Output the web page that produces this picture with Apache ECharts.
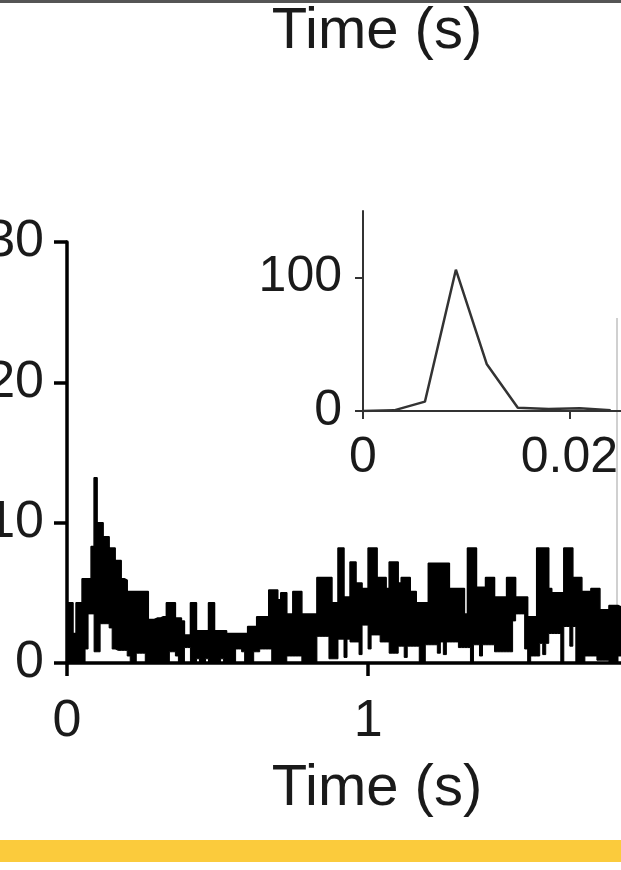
<!DOCTYPE html>
<html>
<head>
<meta charset="utf-8">
<script src="https://cdn.jsdelivr.net/npm/echarts@6/dist/echarts.min.js"></script>
<style>
  html, body { margin: 0; padding: 0; background: #fff; }
  #chart { width: 621px; height: 870px; }
</style>
</head>
<body>
<div id="chart"></div>
<script>
// PSTH trace, 10 ms bins: upper and lower envelope of the trace per bin
const binWidth = 0.01
const peakCounts = [
  4.3, 4.3, 2.1, 4.3, 4.3, 6, 6, 6, 8.3, 13.2,
  10, 10, 9, 9, 8.2, 8.2, 7.3, 7.3, 6, 5.9,
  5.1, 5.1, 5.1, 5.1, 5.1, 5.1, 5.1, 3.1, 3.1, 3.2,
  3.2, 3.3, 3.3, 4.3, 4.3, 4.3, 3.2, 3.2, 3.0, 2.0,
  2.0, 4.3, 4.3, 2.3, 2.3, 2.3, 2.3, 4.3, 4.3, 2.3,
  2.3, 2.3, 2.3, 2.1, 2.1, 2.1, 2.1, 2.1, 2.1, 2.1,
  2.6, 2.6, 2.6, 3.3, 3.3, 3.3, 3.3, 5.2, 5.2, 5.2,
  4.5, 5.0, 5.0, 3.5, 3.5, 5.1, 5.1, 5.1, 3.5, 3.5,
  3.5, 3.5, 3.5, 6.1, 6.1, 6.1, 6.1, 6.1, 4.3, 4.3,
  8.2, 8.2, 4.7, 4.7, 7.2, 7.2, 5.7, 5.7, 5.3, 5.3,
  8.2, 8.2, 8.2, 6.1, 6.1, 6.1, 5.3, 7.2, 7.2, 7.2,
  5.7, 6.1, 6.1, 6.1, 5.1, 5.1, 4.3, 4.3, 4.3, 4.3,
  7.1, 7.1, 7.1, 7.1, 7.1, 7.1, 7.1, 5.3, 5.3, 5.3,
  5.3, 5.3, 3.5, 8.2, 8.2, 8.2, 5.4, 5.4, 5.4, 6.1,
  6.1, 6.1, 4.7, 4.7, 4.7, 4.7, 6.1, 6.1, 6.1, 4.7,
  4.7, 4.7, 4.7, 3.3, 3.3, 3.3, 8.2, 8.2, 8.2, 8.2,
  5.3, 5.0, 5.0, 5.0, 5.0, 8.2, 8.2, 8.2, 6.1, 6.1,
  6.1, 5.1, 5.1, 5.1, 5.3, 5.3, 5.3, 3.8, 3.8, 3.8,
  4.1, 4.1, 4.1, 4.0
]
const troughCounts = [
  0, 0, 0, 0, 0, 0, 1, 3.5, 3.5, 0.8,
  0.8, 2.8, 2.8, 2.8, 2.5, 1, 0.9, 0.9, 0.9, 0.9,
  0.5, 0, 0, 0.7, 0.7, 0.7, 0, 0, 0, 0,
  0, 0, 0, 0, 0.8, 0.8, 0.5, 0, 0, 1.1,
  1.1, 0, 0, 0.3, 0, 0, 0.3, 0, 0, 0,
  0, 0.3, 0, 0, 0, 0, 1, 1, 0.8, 0,
  0, 0, 0.8, 0.8, 1, 1, 1, 1, 0, 0,
  0, 0, 0, 0.5, 0.5, 0.5, 0.5, 0.5, 0, 0,
  0, 0, 0, 1.9, 1.9, 1.9, 1.9, 0.3, 0.3, 0.3,
  1.7, 1.7, 0.4, 1.7, 1.5, 1.5, 1.5, 0.6, 2.7, 2.7,
  1, 2, 2, 2, 1.5, 1.5, 1.5, 0.7, 0.7, 0.7,
  1.2, 1.2, 0.4, 1.2, 1.2, 1.2, 1.2, 0, 0, 1.3,
  1.3, 1.3, 1.3, 0.7, 1.5, 0.6, 1.5, 1.5, 1.5, 1.5,
  1.1, 1.1, 1.1, 1.1, 0, 1.3, 1.3, 0.5, 1.3, 1.3,
  1.3, 1.3, 0.8, 0.8, 0.8, 0.8, 0.8, 0.8, 3.0, 3.5,
  3.5, 3.5, 1.0, 0, 0.5, 0.5, 0.5, 1.4, 0.6, 1.4,
  2.1, 2.1, 2.1, 2.1, 0, 2.6, 2.6, 1.2, 2.6, 0,
  0, 0, 0.5, 0.5, 0.5, 0.5, 0.2, 0.2, 0.2, 0.2,
  0, 0, 0, 0.5
]

// inset: latency histogram
const insetTime = [0, 0.003, 0.006, 0.009, 0.012, 0.015, 0.018, 0.021, 0.024]
const insetCounts = [0, 0.5, 7, 106, 35, 2.5, 1.5, 2, 0.5]

const mainYTicks = [0, 10, 20, 30]
const mainXTicks = [0, 1]
const insetYTicks = [0, 100]
const insetXTicks = [0, 0.02]

const font = "'Liberation Sans', Arial, sans-serif"
const ink = "#1a1a1a"

// step data: each value holds over its bin, closing point at the end of the last bin
const toSteps = (arr) => {
  const pts = arr.map((v, i) => [i * binWidth, v])
  pts.push([arr.length * binWidth, arr[arr.length - 1]])
  return pts
}

const chart = echarts.init(document.getElementById("chart"), null, { renderer: "canvas" })

const option = {
  animation: false,
  backgroundColor: "#fff",
  grid: [
    { left: 67, right: 0, top: 242, bottom: 207, containLabel: false, outerBoundsMode: "none" },
    { left: 363, right: 0, top: 211, bottom: 459, containLabel: false, outerBoundsMode: "none" },
  ],
  xAxis: [
    {
      gridIndex: 0,
      type: "value",
      min: 0,
      max: 1.84,
      interval: 1,
      z: 10,
      name: "Time (s)",
      nameLocation: "middle",
      nameGap: 97,
      nameTextStyle: { fontSize: 58, fontFamily: font, color: ink, padding: [0, 0, 0, 66] },
      axisLine: { lineStyle: { color: "#000", width: 3.5 } },
      axisTick: { customValues: mainXTicks, length: 13, lineStyle: { color: "#000", width: 3.5 } },
      axisLabel: { customValues: mainXTicks, margin: 33, fontSize: 52, fontFamily: font, color: ink },
      splitLine: { show: false },
    },
    {
      gridIndex: 1,
      type: "value",
      min: 0,
      max: 0.025,
      axisLine: { lineStyle: { color: "#333", width: 2 } },
      axisTick: { customValues: insetXTicks, length: 8, lineStyle: { color: "#333", width: 2 } },
      axisLabel: {
        customValues: insetXTicks,
        margin: 22,
        fontSize: 50,
        fontFamily: font,
        color: ink,
        formatter: (v) => (v === 0 ? "0" : v.toFixed(2)),
      },
      splitLine: { show: false },
    },
  ],
  yAxis: [
    {
      gridIndex: 0,
      type: "value",
      min: 0,
      max: 30,
      interval: 10,
      z: 10,
      axisLine: { show: true, lineStyle: { color: "#000", width: 3.5 } },
      axisTick: { show: true, customValues: mainYTicks, length: 13, lineStyle: { color: "#000", width: 3.5 } },
      axisLabel: { customValues: mainYTicks, margin: 23, fontSize: 52, fontFamily: font, color: ink },
      splitLine: { show: false },
    },
    {
      gridIndex: 1,
      type: "value",
      min: 0,
      max: 150,
      axisLine: { show: true, lineStyle: { color: "#333", width: 2 } },
      axisTick: { show: true, customValues: insetYTicks, length: 8, lineStyle: { color: "#333", width: 2 } },
      axisLabel: { customValues: insetYTicks, margin: 21, fontSize: 50, fontFamily: font, color: ink },
      splitLine: { show: false },
    },
  ],
  series: [
    {
      name: "peak",
      type: "line",
      xAxisIndex: 0,
      yAxisIndex: 0,
      data: toSteps(peakCounts),
      step: "end",
      showSymbol: false,
      lineStyle: { color: "#000", width: 1.5 },
      areaStyle: { color: "#000", opacity: 1 },
      z: 3,
    },
    {
      name: "trough",
      type: "line",
      xAxisIndex: 0,
      yAxisIndex: 0,
      data: toSteps(troughCounts),
      step: "end",
      showSymbol: false,
      lineStyle: { color: "#000", width: 1 },
      areaStyle: { color: "#fff", opacity: 1 },
      z: 4,
    },
    {
      type: "line",
      xAxisIndex: 1,
      yAxisIndex: 1,
      data: insetTime.map((t, i) => [t, insetCounts[i]]),
      showSymbol: false,
      lineStyle: { color: "#333", width: 2.5 },
      z: 4,
    },
  ],
  graphic: [
    // top edge of the panel above
    { type: "rect", shape: { x: 0, y: 0, width: 621, height: 3 }, style: { fill: "#555" } },
    // axis title of the panel above
    {
      type: "text",
      x: 377,
      y: 3,
      style: { text: "Time (s)", fontSize: 58, fontFamily: font, fill: ink, align: "center", verticalAlign: "top" },
    },
    // edge of the neighbouring panel
    { type: "line", shape: { x1: 617, y1: 318, x2: 617, y2: 662 }, style: { stroke: "#d0d0d0", lineWidth: 2 } },
    // yellow band at the bottom
    { type: "rect", shape: { x: 0, y: 840, width: 621, height: 22 }, style: { fill: "#fbcb3c" } },
  ],
}

chart.setOption(option)

window.addEventListener("resize", () => chart.resize())
</script>
</body>
</html>
